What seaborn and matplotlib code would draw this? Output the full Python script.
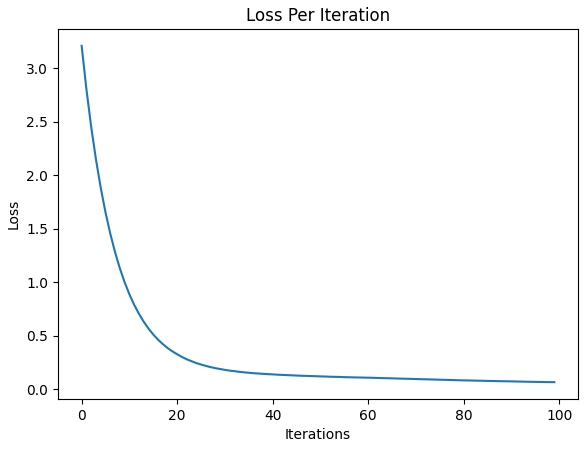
import numpy as np
import pandas as pd
import matplotlib
matplotlib.use("Agg")
import matplotlib.pyplot as plt
import seaborn as sns

iterations = list(range(100))
loss = [
    3.210, 2.805, 2.453, 2.148, 1.884, 1.654, 1.455, 1.282, 1.132, 1.002,
    0.889, 0.791, 0.707, 0.633, 0.569, 0.513, 0.465, 0.424, 0.387, 0.356,
    0.329, 0.304, 0.282, 0.264, 0.247, 0.233, 0.220, 0.209, 0.199, 0.191,
    0.183, 0.176, 0.171, 0.165, 0.160, 0.156, 0.152, 0.149, 0.146, 0.143,
    0.141, 0.138, 0.136, 0.134, 0.132, 0.130, 0.128, 0.127, 0.125, 0.124,
    0.122, 0.121, 0.119, 0.118, 0.117, 0.115, 0.114, 0.113, 0.112, 0.111,
    0.110, 0.109, 0.1075, 0.106, 0.105, 0.104, 0.1025, 0.101, 0.100, 0.099,
    0.0975, 0.096, 0.095, 0.094, 0.0925, 0.091, 0.090, 0.089, 0.0875, 0.086,
    0.085, 0.084, 0.083, 0.082, 0.081, 0.080, 0.079, 0.078, 0.077, 0.0765,
    0.0755, 0.0745, 0.0735, 0.0725, 0.0715, 0.071, 0.070, 0.069, 0.0685, 0.068,
]

df = pd.DataFrame({"Iterations": iterations, "Loss": loss})

fig = plt.figure(figsize=(5.88, 4.5), dpi=100)
ax = fig.add_axes([58 / 588, 51 / 450, 520 / 588, 370 / 450])
sns.lineplot(data=df, x="Iterations", y="Loss", ax=ax, color="#1f77b4", linewidth=1.5)
ax.set_title("Loss Per Iteration")
ax.set_xlabel("Iterations")
ax.set_ylabel("Loss")
fig.savefig("out.png", dpi=100)
